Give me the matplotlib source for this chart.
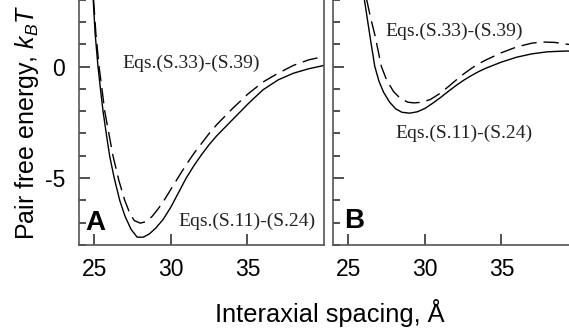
import numpy as np
import matplotlib.pyplot as plt
from matplotlib.ticker import MultipleLocator

plt.rcParams['font.family'] = ['Liberation Sans', 'DejaVu Sans']
plt.rcParams['mathtext.fontset'] = 'custom'
plt.rcParams['mathtext.rm'] = 'Liberation Sans'
plt.rcParams['mathtext.it'] = 'Liberation Sans:italic'
plt.rcParams['axes.unicode_minus'] = False

# Panel A: pair free energy (kBT) vs interaxial spacing (A)
xa_solid = [24.93, 25.05, 25.24, 25.4, 25.57, 25.8, 26.0, 26.3, 26.66, 27.0, 27.4, 27.8,
            28.2, 28.6, 29.0, 29.5, 30.0, 30.5, 31.0, 31.5, 32.0, 32.5, 33.0, 33.5,
            34.0, 35.0, 36.0, 37.0, 38.0, 39.0, 40.0]
ya_solid = [3.0, 1.5, 0.0, -1.0, -2.0, -3.1, -4.0, -5.0, -6.0, -6.7, -7.3, -7.65,
            -7.65, -7.5, -7.25, -6.85, -6.3, -5.65, -5.0, -4.45, -3.95, -3.5, -3.1, -2.75,
            -2.4, -1.7, -1.05, -0.6, -0.3, -0.1, 0.05]
xa_dash = [24.95, 25.1, 25.31, 25.5, 25.68, 25.95, 26.22, 26.6, 26.99, 27.3, 27.6, 28.0,
           28.4, 28.8, 29.2, 29.6, 30.0, 30.5, 31.0, 31.5, 32.0, 32.5, 33.0, 33.5,
           34.0, 35.0, 36.0, 37.0, 38.0, 39.0, 40.0]
ya_dash = [3.0, 1.5, 0.0, -1.0, -2.0, -3.0, -4.0, -5.1, -6.0, -6.55, -6.9, -7.02,
           -6.95, -6.7, -6.35, -5.95, -5.5, -4.95, -4.4, -3.9, -3.45, -3.0, -2.6, -2.25,
           -1.9, -1.25, -0.7, -0.3, 0.05, 0.3, 0.45]

# Panel B
xb_solid = [26.05, 26.25, 26.45, 26.73, 27.0, 27.3, 27.7, 28.1, 28.5, 29.0, 29.5, 30.0,
            30.5, 31.0, 31.5, 32.0, 32.5, 33.0, 33.5, 34.0, 35.0, 36.0, 37.0, 38.0,
            39.0, 40.0]
yb_solid = [3.0, 2.1, 1.2, 0.0, -0.65, -1.15, -1.6, -1.9, -2.05, -2.09, -2.03, -1.88,
            -1.65, -1.4, -1.13, -0.87, -0.63, -0.42, -0.23, -0.07, 0.2, 0.42, 0.57, 0.66,
            0.69, 0.70]
xb_dash = [26.2, 26.45, 26.73, 26.95, 27.16, 27.5, 27.95, 28.4, 28.9, 29.3, 29.8, 30.35,
           31.0, 31.5, 32.0, 32.5, 33.0, 33.5, 34.0, 35.0, 36.0, 37.0, 37.7, 38.5,
           39.3, 40.0]
yb_dash = [3.0, 2.2, 1.43, 0.7, 0.0, -0.6, -1.12, -1.43, -1.6, -1.63, -1.6, -1.48,
           -1.2, -0.92, -0.63, -0.35, -0.1, 0.12, 0.3, 0.62, 0.88, 1.05, 1.1, 1.08,
           1.0, 0.95]

fig = plt.figure(figsize=(5.69, 3.35), dpi=100)
W, H = 569, 335
axA = fig.add_axes([79 / W, 90 / H, 245 / W, 290 / H])
axB = fig.add_axes([333 / W, 90 / H, 245 / W, 290 / H])

spine_col = '#555555'
for ax, xs, ys, xd, yd in [(axA, xa_solid, ya_solid, xa_dash, ya_dash),
                           (axB, xb_solid, yb_solid, xb_dash, yb_dash)]:
    ax.plot(xs, ys, color='black', lw=1.0)
    ln, = ax.plot(xd, yd, color='black', lw=1.0)
    ln.set_dashes([11, 5])
    ax.set_xlim(24, 40)
    ax.set_ylim(-8, 5)
    ax.set_xticks([25, 30, 35])
    ax.set_yticks([-5, 0])
    ax.yaxis.set_minor_locator(MultipleLocator(1))
    ax.tick_params(which='both', direction='in', colors='#333333', labelsize=16.5,
                   width=1.2)
    ax.tick_params(which='major', length=8)
    ax.tick_params(which='minor', length=5)
    ax.tick_params(axis='x', pad=9, labelcolor='black')
    ax.tick_params(axis='y', pad=10, labelcolor='black')
    for s in ax.spines.values():
        s.set_color(spine_col)
        s.set_linewidth(1.2)

axB.tick_params(axis='y', labelleft=False)

serif = dict(family=['Liberation Serif', 'DejaVu Serif'], fontsize=14, color='#222222',
             ha='center', va='center')
axA.text(31.33, 0.13, 'Eqs.(S.33)-(S.39)', **serif)
axA.text(34.95, -6.94, 'Eqs.(S.11)-(S.24)', **serif)
axB.text(31.89, 1.57, 'Eqs.(S.33)-(S.39)', **serif)
axB.text(32.54, -2.99, 'Eqs.(S.11)-(S.24)', **serif)

axA.text(0.025, 0.052, 'A', transform=axA.transAxes, fontsize=20, fontweight='bold',
         va='baseline', ha='left')
axB.text(0.045, 0.058, 'B', transform=axB.transAxes, fontsize=20, fontweight='bold',
         va='baseline', ha='left')

fig.text(27 / W, 95 / H, 'Pair free energy, $k_BT$', rotation=90, fontsize=18,
         ha='center', va='bottom')
fig.text(330 / W, 13 / H, 'Interaxial spacing, Å', fontsize=18.3, ha='center',
         va='baseline')

fig.savefig('out.png', dpi=100)
